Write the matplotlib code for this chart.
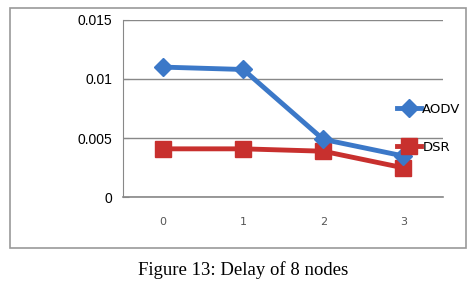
import matplotlib.pyplot as plt
from matplotlib.patches import Rectangle

# data
x_pos = [0, 1, 2, 3]
x_labels = ["0", "1", "2", "3"]
aodv = [0.0110, 0.0108, 0.0049, 0.0035]
dsr = [0.0041, 0.0041, 0.0039, 0.0025]
y_ticks = [0, 0.005, 0.01, 0.015]
y_labels = ["0", "0.005", "0.01", "0.015"]

fig = plt.figure(figsize=(4.74, 2.82), dpi=100)
ax = fig.add_axes([0.26, 0.30, 0.675, 0.63])

ax.plot(x_pos, aodv, color="#3B78C8", lw=3.5, marker="D", ms=9, label="AODV", zorder=3)
ax.plot(x_pos, dsr, color="#C8302E", lw=3.5, marker="s", ms=11, label="DSR", zorder=2)

ax.set_xlim(-0.5, 3.5)
ax.set_ylim(0, 0.015)
ax.set_yticks(y_ticks)
ax.set_yticklabels(y_labels, fontsize=10, family="Liberation Sans")
ax.set_xticks(x_pos)
ax.set_xticklabels(x_labels, fontsize=8, color="#555555")
ax.tick_params(axis="x", length=0, pad=14)
ax.tick_params(axis="y", length=4, color="#888888", direction="in", pad=8)
ax.grid(axis="y", color="#888888", lw=1)
ax.axhline(0, color="#888888", lw=1.2, clip_on=False, zorder=1)
ax.set_axisbelow(True)
for s in ["top", "right", "bottom"]:
    ax.spines[s].set_visible(False)
ax.spines["left"].set_color("#888888")

leg = ax.legend(loc="center left", bbox_to_anchor=(0.84, 0.39), frameon=False,
                handlelength=1.8, fontsize=9.5, labelspacing=1.9,
                handletextpad=0.1, borderaxespad=0)

fig.patches.append(Rectangle((10 / 474, 1 - 248 / 282), 456 / 474, 240 / 282,
                             transform=fig.transFigure, fill=False,
                             edgecolor="#999999", lw=1.2))
fig.text(0.513, 1 - 270 / 282, "Figure 13: Delay of 8 nodes", ha="center", va="center",
         family="Liberation Serif", fontsize=13.5)

fig.savefig("out.png", dpi=100)
